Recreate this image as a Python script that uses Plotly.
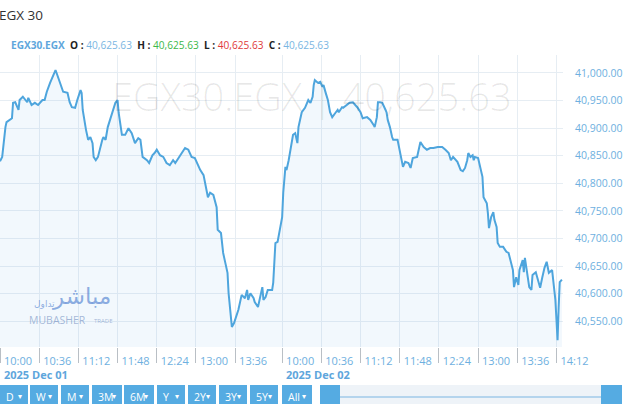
import pandas as pd
import plotly.graph_objects as go

# ── Data ──────────────────────────────────────────────────────────────
DAY1 = "2025-12-01"
DAY2 = "2025-12-02"

# minutes after the 10:00 open, and index level
day1_minutes = [0, 2, 5, 6, 11, 12, 14, 17, 18, 21, 25, 26, 29, 32, 35, 39, 41, 43, 46, 49,
                51, 52, 55, 58, 62, 64, 66, 69, 71, 74, 75, 76, 79, 81, 83, 85, 86, 88, 90, 92,
                94, 95, 97, 99, 103, 106, 108, 109, 112, 115, 118, 121, 124, 127, 129, 131, 135, 137, 140, 142,
                144, 147, 150, 153, 156, 158, 159, 161, 164, 167, 170, 173, 176, 179, 181, 184, 187, 188, 190, 191,
                193, 196, 199, 200, 203, 205, 207, 209, 210, 212, 213, 215, 217, 219, 222, 225, 227, 228, 230, 233,
                234, 237, 241, 242, 244, 246, 250, 251, 253, 255]
day1_values = [40840, 40848, 40902, 40911, 40918, 40946, 40947, 40933, 40951, 40957, 40947, 40955, 40942, 40946, 40942, 40951, 40951, 40966, 40982, 40996,
               41005, 41000, 40982, 40966, 40964, 40947, 40938, 40937, 40951, 40969, 40964, 40933, 40897, 40879, 40884, 40873, 40848, 40842, 40848, 40866,
               40879, 40884, 40879, 40902, 40928, 40946, 40951, 40928, 40888, 40888, 40900, 40891, 40873, 40882, 40879, 40848, 40842, 40837, 40851, 40855,
               40861, 40851, 40848, 40837, 40833, 40839, 40842, 40837, 40846, 40855, 40864, 40861, 40848, 40846, 40837, 40824, 40815, 40806, 40783, 40775,
               40783, 40779, 40757, 40716, 40710, 40674, 40656, 40638, 40601, 40565, 40540, 40547, 40558, 40571, 40598, 40592, 40607, 40589, 40601, 40592,
               40585, 40576, 40612, 40589, 40594, 40607, 40607, 40620, 40692, 40694]

day2_minutes = [0, 1, 3, 4, 6, 9, 10, 12, 14, 15, 18, 21, 23, 24, 26, 28, 29, 30, 33, 35,
                37, 38, 40, 41, 42, 44, 46, 49, 51, 52, 55, 56, 60, 62, 65, 69, 72, 74, 78, 81,
                84, 85, 87, 88, 90, 92, 95, 96, 97, 99, 101, 102, 106, 108, 110, 111, 113, 116, 118, 119,
                120, 124, 127, 130, 133, 136, 139, 143, 147, 150, 153, 155, 157, 161, 164, 166, 168, 170, 171, 173,
                175, 176, 177, 180, 184, 185, 188, 189, 190, 192, 194, 195, 197, 198, 200, 203, 206, 208, 210, 212,
                213, 215, 217, 218, 221, 222, 223, 225, 227, 229, 230, 233, 235, 237, 239, 241, 243, 244, 245, 248,
                249, 251, 252, 253, 254, 255, 257]
day2_values = [40739, 40783, 40830, 40824, 40842, 40873, 40888, 40891, 40873, 40902, 40929, 40937, 40946, 40951, 40946, 40957, 40978, 40987, 40982, 40984,
               40975, 40978, 40964, 40957, 40951, 40929, 40920, 40928, 40933, 40929, 40938, 40937, 40942, 40946, 40947, 40938, 40929, 40918, 40920, 40915,
               40906, 40902, 40920, 40947, 40947, 40946, 40933, 40928, 40915, 40902, 40884, 40879, 40879, 40857, 40842, 40830, 40839, 40837, 40828, 40837,
               40846, 40848, 40875, 40866, 40861, 40864, 40864, 40866, 40866, 40861, 40855, 40842, 40848, 40839, 40824, 40822, 40828, 40842, 40855, 40848,
               40851, 40842, 40848, 40846, 40812, 40775, 40764, 40746, 40719, 40739, 40748, 40734, 40721, 40692, 40685, 40685, 40676, 40674, 40656, 40643,
               40612, 40630, 40616, 40643, 40661, 40639, 40665, 40638, 40612, 40607, 40634, 40639, 40625, 40611, 40630, 40647, 40658, 40647, 40638, 40643,
               40625, 40589, 40553, 40516, 40576, 40621, 40625.63]

tick_times_day1 = ["10:00", "10:36", "11:12", "11:48", "12:24", "13:00", "13:36"]
tick_times_day2 = ["10:00", "10:36", "11:12", "11:48", "12:24", "13:00", "13:36", "14:12"]
date_labels = {DAY1: "2025 Dec 01", DAY2: "2025 Dec 02"}

symbol = "EGX30.EGX"
title = "EGX 30"
last_price = 40625.63
ohlc = {"O": 40625.63, "H": 40625.63, "L": 40625.63, "C": 40625.63}
period_buttons = ["D", "W", "M", "3M", "6M", "Y", "2Y", "3Y", "5Y", "All"]

# ── Colours / geometry ────────────────────────────────────────────────
LINE = "#4ea5dd"
LABEL = "#6eb0e0"
GRID = "#e6edf3"
BTN = "#55abe2"
FONT = "Open Sans, Segoe UI, sans-serif"

W, H = 640, 404
M_L, M_R, M_T, M_B = 0, 77, 55, 57
PW, PH = W - M_L - M_R, H - M_T - M_B


def px_x(x):
    return (x - M_L) / PW


def px_y(y):
    return (H - M_B - y) / PH


def stamp(day, minutes):
    return pd.Timestamp(f"{day} 10:00") + pd.to_timedelta(minutes, unit="min")


times = list(stamp(DAY1, day1_minutes)) + list(stamp(DAY2, day2_minutes))
values = day1_values + day2_values

fig = go.Figure()
fig.add_trace(
    go.Scatter(
        x=times,
        y=values,
        mode="lines",
        line={"color": LINE, "width": 2},
        fill="tozeroy",
        fillcolor="rgba(90,170,230,0.08)",
        hoverinfo="skip",
        showlegend=False,
    )
)

tickvals = [pd.Timestamp(f"{DAY1} {t}") for t in tick_times_day1] + \
           [pd.Timestamp(f"{DAY2} {t}") for t in tick_times_day2]
ticktext = tick_times_day1 + tick_times_day2

# tick marks run down into the label band, labels sit beside them
fig.update_xaxes(
    type="date",
    range=[pd.Timestamp(f"{DAY1} 10:00"), pd.Timestamp(f"{DAY2} 14:18")],
    rangebreaks=[{"bounds": [14.32, 10], "pattern": "hour"}],
    tickvals=tickvals,
    ticktext=ticktext,
    ticks="outside",
    ticklen=15,
    tickcolor="#b9bfc5",
    tickwidth=1,
    ticklabelshift=18,
    ticklabelstandoff=-11,
    tickfont={"color": LABEL, "size": 11, "family": FONT},
    showgrid=True,
    gridcolor=GRID,
    zeroline=False,
    showline=False,
    fixedrange=True,
)
fig.update_yaxes(
    side="right",
    range=[40503.6, 41032.6],
    tick0=40500,
    dtick=50,
    tickformat=",.2f",
    ticks="",
    ticklabelstandoff=11,
    tickfont={"color": LABEL, "size": 10.5, "family": FONT},
    showgrid=True,
    gridcolor=GRID,
    zeroline=False,
    showline=False,
    fixedrange=True,
)

annotations = []
shapes = []

# title and OHLC header
annotations.append(dict(
    text=title, xref="paper", yref="paper", x=px_x(-3), y=px_y(15),
    xanchor="left", yanchor="middle", showarrow=False,
    font={"size": 13.5, "color": "#333333", "family": FONT},
))
header = f"<span style='color:#5ea6dc'><b>{symbol}</b></span>"
ohlc_colors = {"O": "#7ab6e2", "H": "#3cb84a", "L": "#e0393b", "C": "#7ab6e2"}
for k, v in ohlc.items():
    header += f"  <b>{k} :</b> <span style='color:{ohlc_colors[k]}'>{v:,.2f}</span>"
annotations.append(dict(
    text=header, xref="paper", yref="paper", x=px_x(9), y=px_y(45),
    xanchor="left", yanchor="middle", showarrow=False,
    font={"size": 10.1, "color": "#222222", "family": FONT},
))

# big watermark
annotations.append(dict(
    text=f"{symbol} | {last_price:,.2f}", xref="paper", yref="paper",
    x=px_x(312), y=px_y(96), xanchor="center", yanchor="middle", showarrow=False,
    font={"size": 38, "color": "rgba(0,0,0,0.09)", "family": FONT, "weight": 300},
))

# Mubasher logo watermark
logo_col = "rgba(70,120,205,0.6)"
annotations += [
    dict(text="مباشر", xref="paper", yref="paper", x=px_x(113), y=px_y(296),
         xanchor="right", yanchor="middle", showarrow=False,
         font={"size": 23, "color": logo_col, "family": "DejaVu Sans"}),
    dict(text="تداول", xref="paper", yref="paper", x=px_x(57), y=px_y(304),
         xanchor="right", yanchor="middle", showarrow=False,
         font={"size": 9, "color": logo_col, "family": "DejaVu Sans"}),
    dict(text="MUBASHER", xref="paper", yref="paper", x=px_x(27), y=px_y(320),
         xanchor="left", yanchor="middle", showarrow=False,
         font={"size": 10.5, "color": "rgba(110,140,190,0.6)", "family": FONT}),
    dict(text="TRADE", xref="paper", yref="paper", x=px_x(92), y=px_y(321),
         xanchor="left", yanchor="middle", showarrow=False,
         font={"size": 6, "color": "rgba(110,140,190,0.6)", "family": FONT}),
]

# date labels under first tick of each session
for day, lab in date_labels.items():
    annotations.append(dict(
        text=f"<b>{lab}</b>", xref="x", yref="paper", x=pd.Timestamp(f"{day} 10:00"),
        y=px_y(374), xanchor="left", yanchor="middle", xshift=2, showarrow=False,
        font={"size": 11, "color": "#5ea6dc", "family": FONT},
    ))

# period buttons
btn_edges = [(0, 28), (30, 58), (61, 89), (92, 122), (124, 154),
             (157, 185), (188, 216), (219, 247), (250, 278), (282, 312)]
for lab, (x0, x1) in zip(period_buttons, btn_edges):
    shapes.append(dict(type="rect", xref="paper", yref="paper",
                       x0=px_x(x0), x1=px_x(x1), y0=px_y(385), y1=px_y(410),
                       fillcolor=BTN, line={"width": 0}, layer="above"))
    annotations.append(dict(text=lab, xref="paper", yref="paper", x=px_x(x0 + 4), y=px_y(397),
                            xanchor="left", yanchor="middle", showarrow=False,
                            font={"size": 10.5, "color": "white", "family": FONT}))
    annotations.append(dict(text="▾", xref="paper", yref="paper", x=px_x(x1 - 4), y=px_y(396),
                            xanchor="right", yanchor="middle", showarrow=False,
                            font={"size": 8, "color": "white", "family": "DejaVu Sans"}))

# navigator / range slider
shapes += [
    dict(type="rect", xref="paper", yref="paper", x0=px_x(320), x1=px_x(622),
         y0=px_y(385), y1=px_y(410), fillcolor="#eef3f8", line={"width": 0}, layer="above"),
    dict(type="line", xref="paper", yref="paper", x0=px_x(340), x1=px_x(601),
         y0=px_y(397), y1=px_y(397), line={"color": "#7ab6e2", "width": 1.2}, layer="above"),
    dict(type="rect", xref="paper", yref="paper", x0=px_x(320), x1=px_x(340),
         y0=px_y(385), y1=px_y(410), fillcolor=BTN, line={"width": 0}, layer="above"),
    dict(type="rect", xref="paper", yref="paper", x0=px_x(601), x1=px_x(622),
         y0=px_y(385), y1=px_y(410), fillcolor=BTN, line={"width": 0}, layer="above"),
]

fig.update_layout(
    width=W,
    height=H,
    margin={"l": M_L, "r": M_R, "t": M_T, "b": M_B, "pad": 0},
    paper_bgcolor="white",
    plot_bgcolor="white",
    font={"family": FONT},
    annotations=annotations,
    shapes=shapes,
    showlegend=False,
)

fig.write_html("out.html", config={"displayModeBar": False},
               post_script="document.body.style.margin='0';")
